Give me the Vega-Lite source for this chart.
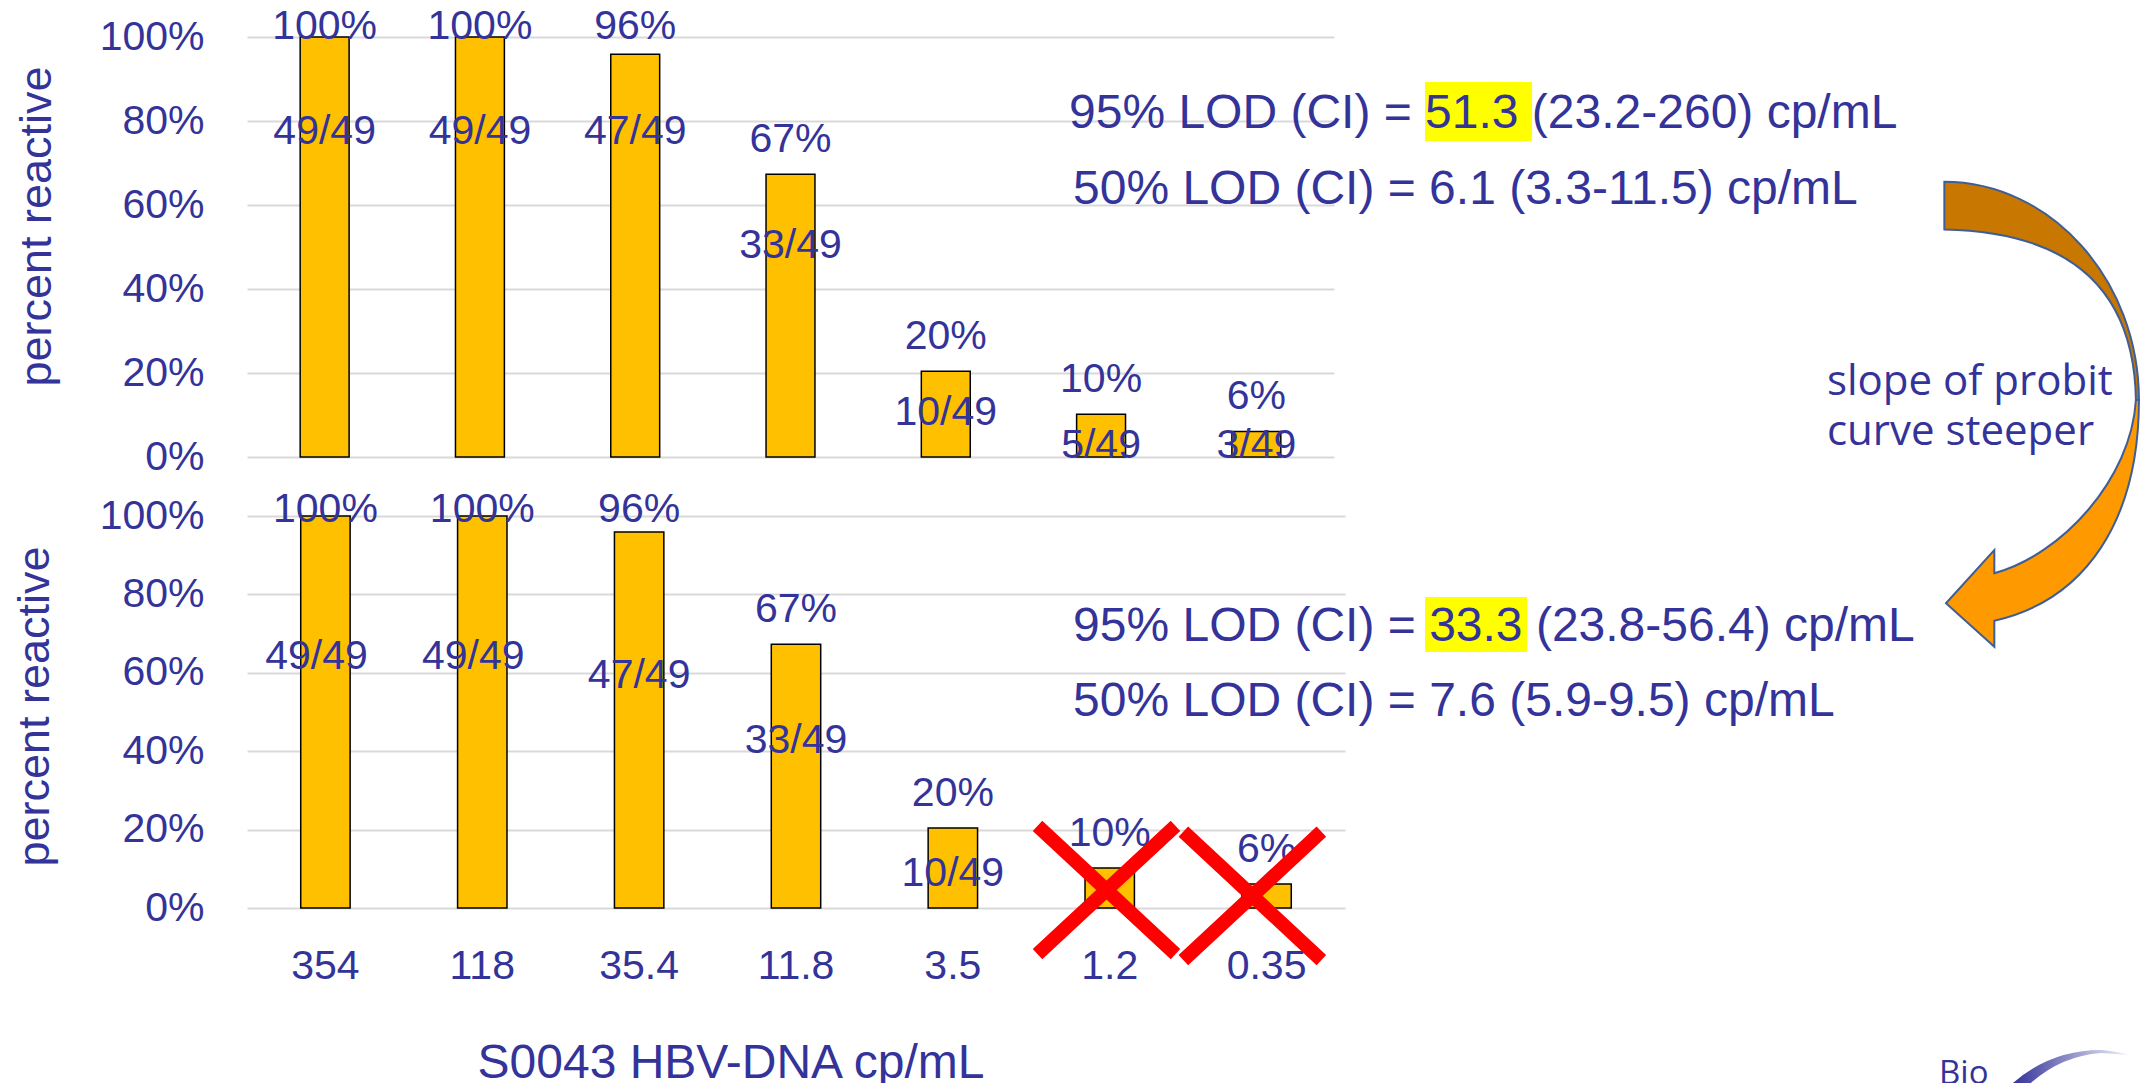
{
  "$schema": "https://vega.github.io/schema/vega-lite/v6.json",
  "background": "white",
  "padding": {"left": 11, "top": 6, "right": 0, "bottom": 0},
  "bounds": "flush",
  "spacing": 59,
  "config": {
    "view": {"stroke": null},
    "font": "Liberation Sans"
  },
  "datasets": {
    "hbv": [
      {"conc": "354", "reactive": 49, "tested": 49, "pct": 1.0, "ratio": "49/49"},
      {"conc": "118", "reactive": 49, "tested": 49, "pct": 1.0, "ratio": "49/49"},
      {"conc": "35.4", "reactive": 47, "tested": 49, "pct": 0.959, "ratio": "47/49"},
      {"conc": "11.8", "reactive": 33, "tested": 49, "pct": 0.673, "ratio": "33/49"},
      {"conc": "3.5", "reactive": 10, "tested": 49, "pct": 0.204, "ratio": "10/49"},
      {"conc": "1.2", "reactive": 5, "tested": 49, "pct": 0.102, "ratio": "5/49"},
      {"conc": "0.35", "reactive": 3, "tested": 49, "pct": 0.061, "ratio": "3/49"}
    ],
    "lod": [
      {"fit": "all", "level": "95%", "lod": 51.3, "label": "95% LOD (CI) = 51.3 (23.2-260) cp/mL"},
      {"fit": "all", "level": "50%", "lod": 6.1, "label": "50% LOD (CI) = 6.1 (3.3-11.5) cp/mL"},
      {"fit": "trimmed", "level": "95%", "lod": 33.3, "label": "95% LOD (CI) = 33.3 (23.8-56.4) cp/mL"},
      {"fit": "trimmed", "level": "50%", "lod": 7.6, "label": "50% LOD (CI) = 7.6 (5.9-9.5) cp/mL"}
    ],
    "notes": [
      {"note": ["slope of probit", "curve steeper"], "logo": "Bio"}
    ]
  },
  "vconcat": [
    {
      "width": 1087,
      "height": 420,
      "layer": [
        {
          "data": {"name": "hbv"},
          "encoding": {
            "x": {
              "field": "conc", "type": "nominal", "sort": null,
              "scale": {"domain": ["354", "118", "35.4", "11.8", "3.5", "1.2", "0.35"], "paddingInner": 0.685, "paddingOuter": 0.3425},
              "axis": null
            }
          },
          "layer": [
            {
              "mark": {"type": "bar", "fill": "#FFC000", "stroke": "#000000", "strokeWidth": 1.5},
              "encoding": {
                "y": {
                  "field": "pct", "type": "quantitative",
                  "scale": {"domain": [0, 1]},
                  "axis": {
                    "title": "percent reactive", "format": ".0%", "values": [0, 0.2, 0.4, 0.6, 0.8, 1],
                    "grid": true, "gridColor": "#D9D9D9", "gridWidth": 2,
                    "domain": false, "ticks": false, "tickSize": 0,
                    "labelFont": "Liberation Sans", "labelFontSize": 41, "labelColor": "#333399", "labelPadding": 43,
                    "titleFont": "Liberation Sans", "titleFontSize": 45, "titleFontWeight": "normal", "titleColor": "#333399",
                    "titleX": -197, "titleY": 189, "titleBaseline": "alphabetic", "titleAngle": -90, "titleAlign": "center"
                  }
                }
              }
            },
            {
              "transform": [{"filter": "datum.pct < 0.9"}],
              "mark": {"type": "text", "baseline": "alphabetic", "dy": -22, "fontSize": 41, "color": "#333399", "font": "Liberation Sans"},
              "encoding": {"y": {"field": "pct", "type": "quantitative"}, "text": {"field": "pct", "format": ".0%"}}
            },
            {
              "transform": [{"filter": "datum.pct >= 0.9"}],
              "mark": {"type": "text", "baseline": "alphabetic", "dy": 2, "fontSize": 41, "color": "#333399", "font": "Liberation Sans"},
              "encoding": {"y": {"datum": 1, "type": "quantitative"}, "text": {"field": "pct", "format": ".0%"}}
            },
            {
              "transform": [{"filter": {"field": "conc", "oneOf": ["354", "118", "35.4"]}}],
              "mark": {"type": "text", "baseline": "alphabetic", "fontSize": 41, "color": "#333399", "font": "Liberation Sans"},
              "encoding": {"y": {"datum": 0.745, "type": "quantitative"}, "text": {"field": "ratio"}}
            },
            {
              "transform": [{"filter": {"field": "conc", "oneOf": ["11.8"]}}],
              "mark": {"type": "text", "baseline": "alphabetic", "fontSize": 41, "color": "#333399", "font": "Liberation Sans"},
              "encoding": {"y": {"datum": 0.474, "type": "quantitative"}, "text": {"field": "ratio"}}
            },
            {
              "transform": [{"filter": {"field": "conc", "oneOf": ["3.5"]}}],
              "mark": {"type": "text", "baseline": "alphabetic", "fontSize": 41, "color": "#333399", "font": "Liberation Sans"},
              "encoding": {"y": {"datum": 0.076, "type": "quantitative"}, "text": {"field": "ratio"}}
            },
            {
              "transform": [{"filter": {"field": "conc", "oneOf": ["1.2", "0.35"]}}],
              "mark": {"type": "text", "baseline": "alphabetic", "fontSize": 41, "color": "#333399", "font": "Liberation Sans"},
              "encoding": {"y": {"datum": -0.003, "type": "quantitative"}, "text": {"field": "ratio"}}
            }
          ]
        },
        {
          "layer": [
            {
              "data": {"name": "lod"},
              "transform": [{"filter": "datum.fit === 'all' && datum.level === '95%'"}],
              "mark": {"type": "rect", "fill": "#FFFF00"},
              "encoding": {
                "x": {"datum": 1.0837, "type": "quantitative", "scale": {"domain": [0, 1], "nice": false, "zero": false}, "axis": null},
                "x2": {"datum": 1.1822},
                "y": {"datum": 0.8929, "type": "quantitative"},
                "y2": {"datum": 0.7524}
              }
            },
            {
              "data": {"name": "lod"},
              "transform": [{"filter": "datum.fit === 'all' && datum.level === '95%'"}],
              "mark": {"type": "text", "align": "left", "baseline": "alphabetic", "fontSize": 48, "color": "#333399", "font": "Liberation Sans"},
              "encoding": {
                "x": {"datum": 0.7562, "type": "quantitative", "axis": null},
                "y": {"datum": 0.7833, "type": "quantitative"},
                "text": {"field": "label"}
              }
            },
            {
              "data": {"name": "lod"},
              "transform": [{"filter": "datum.fit === 'all' && datum.level === '50%'"}],
              "mark": {"type": "text", "align": "left", "baseline": "alphabetic", "fontSize": 48, "color": "#333399", "font": "Liberation Sans"},
              "encoding": {
                "x": {"datum": 0.7599, "type": "quantitative", "axis": null},
                "y": {"datum": 0.6024, "type": "quantitative"},
                "text": {"field": "label"}
              }
            },
            {
              "data": {"name": "notes"},
              "mark": {"type": "text", "align": "left", "baseline": "alphabetic", "fontSize": 42, "lineHeight": 50, "color": "#333399", "font": "Open Sans"},
              "encoding": {
                "x": {"datum": 1.4535, "type": "quantitative", "axis": null},
                "y": {"datum": 0.1476, "type": "quantitative"},
                "text": {"field": "note"}
              }
            },
            {
              "data": {"name": "notes"},
              "mark": {
                "type": "point", "filled": true, "opacity": 1, "size": 216225,
                "shape": "M-0.418,-0.999 C0.041,-0.998 0.419,-0.576 0.419,-0.060 L0.406,-0.060 C0.398,-0.533 0.127,-0.783 -0.418,-0.794 Z",
                "fill": "#C87800", "stroke": "#3F5E96", "strokeWidth": 2
              },
              "encoding": {
                "x": {"datum": 1.6509, "type": "quantitative", "axis": null},
                "y": {"datum": 0.1024, "type": "quantitative"}
              }
            },
            {
              "data": {"name": "notes"},
              "mark": {
                "type": "point", "filled": true, "opacity": 1, "size": 216225,
                "shape": "M0.419,-0.060 C0.419,0.456 0.191,0.800 -0.203,0.889 L-0.203,1.001 L-0.411,0.814 L-0.203,0.585 L-0.203,0.685 C0.084,0.606 0.385,0.284 0.406,-0.060 Z",
                "fill": "#FF9900", "stroke": "#3F5E96", "strokeWidth": 2
              },
              "encoding": {
                "x": {"datum": 1.6509, "type": "quantitative", "axis": null},
                "y": {"datum": 0.1024, "type": "quantitative"}
              }
            }
          ]
        }
      ],
      "resolve": {"scale": {"x": "independent"}}
    },
    {
      "width": 1098,
      "height": 392,
      "layer": [
        {
          "data": {"name": "hbv"},
          "encoding": {
            "x": {
              "field": "conc", "type": "nominal", "sort": null,
              "scale": {"domain": ["354", "118", "35.4", "11.8", "3.5", "1.2", "0.35"], "paddingInner": 0.685, "paddingOuter": 0.3425},
              "axis": {
                "title": "S0043 HBV-DNA cp/mL", "labelAngle": 0,
                "labelFont": "Liberation Sans", "labelFontSize": 41, "labelColor": "#333399", "labelPadding": 38,
                "ticks": false, "tickSize": 0, "domain": false, "grid": false,
                "titleFont": "Liberation Sans", "titleFontSize": 48, "titleFontWeight": "normal", "titleColor": "#333399",
                "titleX": 483.5, "titleY": 169, "titleBaseline": "alphabetic", "titleAlign": "center"
              }
            }
          },
          "layer": [
            {
              "mark": {"type": "bar", "fill": "#FFC000", "stroke": "#000000", "strokeWidth": 1.5},
              "encoding": {
                "y": {
                  "field": "pct", "type": "quantitative",
                  "scale": {"domain": [0, 1]},
                  "axis": {
                    "title": "percent reactive", "format": ".0%", "values": [0, 0.2, 0.4, 0.6, 0.8, 1],
                    "grid": true, "gridColor": "#D9D9D9", "gridWidth": 2,
                    "domain": false, "ticks": false, "tickSize": 0,
                    "labelFont": "Liberation Sans", "labelFontSize": 41, "labelColor": "#333399", "labelPadding": 43,
                    "titleFont": "Liberation Sans", "titleFontSize": 45, "titleFontWeight": "normal", "titleColor": "#333399",
                    "titleX": -199, "titleY": 190, "titleBaseline": "alphabetic", "titleAngle": -90, "titleAlign": "center"
                  }
                }
              }
            },
            {
              "transform": [{"filter": "datum.pct < 0.9"}],
              "mark": {"type": "text", "baseline": "alphabetic", "dy": -22, "fontSize": 41, "color": "#333399", "font": "Liberation Sans"},
              "encoding": {"y": {"field": "pct", "type": "quantitative"}, "text": {"field": "pct", "format": ".0%"}}
            },
            {
              "transform": [{"filter": "datum.pct >= 0.9"}],
              "mark": {"type": "text", "baseline": "alphabetic", "dy": 5.5, "fontSize": 41, "color": "#333399", "font": "Liberation Sans"},
              "encoding": {"y": {"datum": 1, "type": "quantitative"}, "text": {"field": "pct", "format": ".0%"}}
            },
            {
              "transform": [{"filter": {"field": "conc", "oneOf": ["354", "118"]}}],
              "mark": {"type": "text", "baseline": "alphabetic", "dx": -9, "fontSize": 41, "color": "#333399", "font": "Liberation Sans"},
              "encoding": {"y": {"datum": 0.61, "type": "quantitative"}, "text": {"field": "ratio"}}
            },
            {
              "transform": [{"filter": {"field": "conc", "oneOf": ["35.4"]}}],
              "mark": {"type": "text", "baseline": "alphabetic", "fontSize": 41, "color": "#333399", "font": "Liberation Sans"},
              "encoding": {"y": {"datum": 0.561, "type": "quantitative"}, "text": {"field": "ratio"}}
            },
            {
              "transform": [{"filter": {"field": "conc", "oneOf": ["11.8"]}}],
              "mark": {"type": "text", "baseline": "alphabetic", "fontSize": 41, "color": "#333399", "font": "Liberation Sans"},
              "encoding": {"y": {"datum": 0.395, "type": "quantitative"}, "text": {"field": "ratio"}}
            },
            {
              "transform": [{"filter": {"field": "conc", "oneOf": ["3.5"]}}],
              "mark": {"type": "text", "baseline": "alphabetic", "fontSize": 41, "color": "#333399", "font": "Liberation Sans"},
              "encoding": {"y": {"datum": 0.055, "type": "quantitative"}, "text": {"field": "ratio"}}
            },
            {
              "transform": [{"filter": {"field": "conc", "equal": "1.2"}}],
              "mark": {"type": "point", "shape": "M-1,-0.93L1,0.93M1,-0.93L-1,0.93", "size": 19044, "filled": false, "opacity": 1, "stroke": "#FF0000", "strokeWidth": 14},
              "encoding": {"y": {"datum": 0.046, "type": "quantitative"}, "xOffset": {"value": 21.5}}
            },
            {
              "transform": [{"filter": {"field": "conc", "equal": "0.35"}}],
              "mark": {"type": "point", "shape": "M-1,-0.93L1,0.93M1,-0.93L-1,0.93", "size": 19044, "filled": false, "opacity": 1, "stroke": "#FF0000", "strokeWidth": 14},
              "encoding": {"y": {"datum": 0.031, "type": "quantitative"}, "xOffset": {"value": 10.5}}
            }
          ]
        },
        {
          "layer": [
            {
              "data": {"name": "lod"},
              "transform": [{"filter": "datum.fit === 'trimmed' && datum.level === '95%'"}],
              "mark": {"type": "rect", "fill": "#FFFF00"},
              "encoding": {
                "x": {"datum": 1.0729, "type": "quantitative", "scale": {"domain": [0, 1], "nice": false, "zero": false}, "axis": null},
                "x2": {"datum": 1.1658},
                "y": {"datum": 0.7934, "type": "quantitative"},
                "y2": {"datum": 0.6531}
              }
            },
            {
              "data": {"name": "lod"},
              "transform": [{"filter": "datum.fit === 'trimmed' && datum.level === '95%'"}],
              "mark": {"type": "text", "align": "left", "baseline": "alphabetic", "fontSize": 48, "color": "#333399", "font": "Liberation Sans"},
              "encoding": {
                "x": {"datum": 0.7523, "type": "quantitative", "axis": null},
                "y": {"datum": 0.6811, "type": "quantitative"},
                "text": {"field": "label"}
              }
            },
            {
              "data": {"name": "lod"},
              "transform": [{"filter": "datum.fit === 'trimmed' && datum.level === '50%'"}],
              "mark": {"type": "text", "align": "left", "baseline": "alphabetic", "fontSize": 48, "color": "#333399", "font": "Liberation Sans"},
              "encoding": {
                "x": {"datum": 0.7523, "type": "quantitative", "axis": null},
                "y": {"datum": 0.4898, "type": "quantitative"},
                "text": {"field": "label"}
              }
            },
            {
              "data": {"name": "notes"},
              "mark": {"type": "text", "align": "left", "baseline": "alphabetic", "fontSize": 33, "color": "#333399", "font": "Open Sans"},
              "encoding": {
                "x": {"datum": 1.541, "type": "quantitative", "axis": null},
                "y": {"datum": -0.448, "type": "quantitative"},
                "text": {"field": "logo"}
              }
            },
            {
              "data": {"name": "notes"},
              "mark": {
                "type": "point", "filled": true, "opacity": 1, "size": 13456, "strokeWidth": 0,
                "shape": "M-1,0.284 Q-0.345,-0.284 0.517,-0.284 Q0.776,-0.267 1,-0.198 L0.517,-0.233 Q-0.172,-0.181 -0.69,0.284 Z",
                "fill": {"gradient": "linear", "x1": 0, "y1": 0, "x2": 1, "y2": 0, "stops": [{"offset": 0, "color": "#333399"}, {"offset": 1, "color": "#F2F2FA"}]}
              },
              "encoding": {
                "x": {"datum": 1.6612, "type": "quantitative", "axis": null},
                "y": {"datum": -0.4043, "type": "quantitative"}
              }
            }
          ]
        }
      ],
      "resolve": {"scale": {"x": "independent"}}
    }
  ]
}
